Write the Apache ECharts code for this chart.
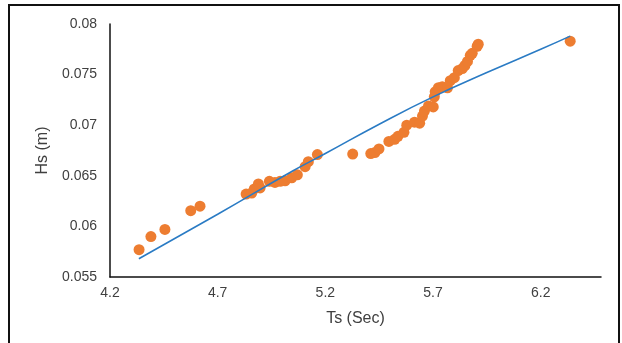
<!DOCTYPE html>
<html>
<head>
<meta charset="utf-8" />
<title>Hs vs Ts</title>
<script src="https://cdnjs.cloudflare.com/ajax/libs/echarts/6.0.0/echarts.min.js"></script>
<style>
  html, body { margin: 0; padding: 0; background: #fff; overflow: hidden; }
  #frame { position: absolute; left: 8px; top: 4px; width: 608px; height: 400px; border: 2px solid #111; }
  #chart { position: absolute; left: 0; top: 0; width: 622px; height: 343px; }
</style>
</head>
<body>
<div id="frame"></div>
<div id="chart"></div>
<script>
  // measured points (Ts in sec, Hs in m)
  var ts = [4.335, 4.39, 4.455, 4.575, 4.618, 4.832, 4.858, 4.87, 4.889, 4.897,
            4.94, 4.966, 4.99, 5.013, 5.044, 5.07, 5.106, 5.121, 5.163, 5.327,
            5.411, 5.43, 5.449, 5.495, 5.522, 5.537, 5.565, 5.578, 5.614, 5.638,
            5.651, 5.66, 5.679, 5.701, 5.706, 5.71, 5.725, 5.743, 5.767, 5.78,
            5.799, 5.817, 5.836, 5.848, 5.86, 5.873, 5.882, 5.905, 5.91, 6.337];
  var hs = [0.0577, 0.0590, 0.0597, 0.06155, 0.0620, 0.0632, 0.0633, 0.0637, 0.0642, 0.0638,
            0.06445, 0.06435, 0.06445, 0.0645, 0.0648, 0.0651, 0.0659, 0.0664, 0.0671, 0.06715,
            0.0672, 0.0673, 0.06765, 0.0684, 0.0686, 0.0689, 0.0693, 0.0700, 0.0703, 0.0702,
            0.0709, 0.0714, 0.0719, 0.0718, 0.0728, 0.0733, 0.0737, 0.0738, 0.0737, 0.0744,
            0.0747, 0.0754, 0.0756, 0.0759, 0.0763, 0.0769, 0.0771, 0.0778, 0.0780, 0.0783];

  // trend line
  var trendTs = [4.334, 4.7, 5.05, 5.2, 5.45, 5.7, 5.95, 6.2, 6.337];
  var trendHs = [0.0568, 0.0612, 0.0655, 0.0672, 0.0701, 0.0728, 0.0752, 0.0775, 0.0788];

  var txt = '#404040';
  var font = 'Liberation Sans, Arial, sans-serif';

  var option = {
    animation: false,
    grid: { left: 110, right: 21, top: 24, bottom: 66, containLabel: false },
    xAxis: {
      type: 'value', min: 4.2, max: 6.48, interval: 0.5,
      name: 'Ts (Sec)', nameLocation: 'middle', nameGap: 34,
      nameTextStyle: { color: txt, fontSize: 16, fontFamily: font },
      axisLine: { show: true, lineStyle: { color: '#111', width: 1.5 } },
      axisTick: { show: false },
      splitLine: { show: false },
      axisLabel: {
        color: txt, fontSize: 14, fontFamily: font, margin: 9, showMaxLabel: false,
        formatter: function (v) { return String(+v.toFixed(1)); }
      }
    },
    yAxis: {
      type: 'value', min: 0.055, max: 0.08, interval: 0.005,
      name: 'Hs (m)', nameLocation: 'middle', nameGap: 57, nameRotate: 90,
      nameTextStyle: { color: txt, fontSize: 16, fontFamily: font },
      axisLine: { show: true, lineStyle: { color: '#111', width: 1.5 } },
      axisTick: { show: false },
      splitLine: { show: false },
      axisLabel: {
        color: txt, fontSize: 14, fontFamily: font, margin: 13,
        formatter: function (v) { return String(+v.toFixed(3)); }
      }
    },
    series: [
      {
        type: 'scatter',
        data: ts.map(function (t, i) { return [t, hs[i]]; }),
        symbolSize: 11,
        itemStyle: { color: '#ED7D31', opacity: 1 },
        z: 2
      },
      {
        type: 'line',
        data: trendTs.map(function (t, i) { return [t, trendHs[i]]; }),
        smooth: true,
        showSymbol: false,
        lineStyle: { color: '#2A7BC4', width: 1.6 },
        z: 3
      }
    ]
  };

  var chart = echarts.init(document.getElementById('chart'));
  chart.setOption(option);
</script>
</body>
</html>
